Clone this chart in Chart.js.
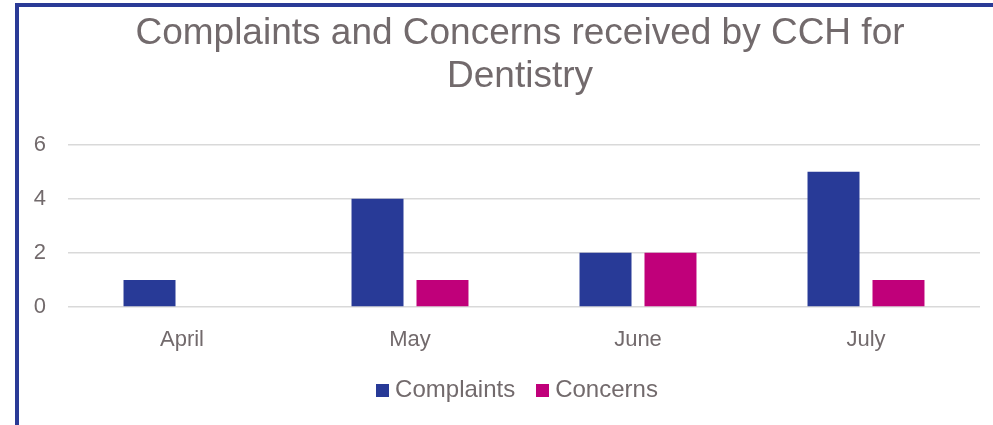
<!DOCTYPE html>
<html>
<head>
<meta charset="utf-8">
<script src="https://cdn.jsdelivr.net/npm/chart.js@4.4.0/dist/chart.umd.min.js"></script>
<style>
  html, body { margin: 0; padding: 0; background: #fff; width: 993px; height: 425px; overflow: hidden; }
  #frame { position: absolute; left: 15px; top: 3px; width: 974px; height: 418px;
           border-left: 4px solid #2a3a96; border-top: 4px solid #2a3a96; }
  #wrap { position: relative; width: 1002px; height: 440px; }
</style>
</head>
<body>
<div id="frame"><div id="wrap"><canvas id="c"></canvas></div></div>
<script>
const categories = ["April", "May", "June", "July"];
const complaints = [1, 4, 2, 5];
const concerns = [0, 1, 2, 1];
const yTicks = [0, 2, 4, 6];
const titleLines = ["Complaints and Concerns received by CCH for", "Dentistry"];

const textColor = "#726a6c";
const fontFamily = "'Liberation Sans', Arial, sans-serif";
const complaintsColor = "#283a97";
const concernsColor = "#c0007a";

function swatch(color) {
  const c = document.createElement("canvas");
  c.width = 13; c.height = 13;
  const g = c.getContext("2d");
  g.fillStyle = color;
  g.fillRect(0, 0, 13, 13);
  return c;
}

new Chart(document.getElementById("c"), {
  type: "bar",
  data: {
    labels: categories,
    datasets: [
      { label: "Complaints", data: complaints, backgroundColor: complaintsColor, pointStyle: swatch(complaintsColor), yAxisID: "y" },
      { label: "Concerns", data: concerns, backgroundColor: concernsColor, pointStyle: swatch(concernsColor), yAxisID: "y" }
    ]
  },
  options: {
    responsive: true,
    maintainAspectRatio: false,
    animation: false,
    devicePixelRatio: 1,
    layout: { padding: { left: 0, right: 0, top: 0, bottom: 35 } },
    datasets: { bar: { categoryPercentage: 0.57, barPercentage: 0.8 } },
    plugins: {
      title: {
        display: true,
        text: titleLines,
        color: textColor,
        font: { family: fontFamily, size: 37, weight: "normal", lineHeight: 1.17 },
        padding: { top: 5, bottom: 46 }
      },
      legend: {
        position: "bottom",
        labels: {
          color: textColor,
          usePointStyle: true,
          pointStyleWidth: 1,
          boxHeight: 13,
          padding: 27,
          font: { family: fontFamily, size: 24 }
        }
      },
      tooltip: { enabled: false }
    },
    scales: {
      x: {
        grid: { display: false, drawTicks: false },
        border: { display: false },
        ticks: { color: textColor, padding: 20, font: { family: fontFamily, size: 22 } },
        afterFit: (s) => { s.height = 44; }
      },
      y: {
        position: "left",
        min: yTicks[0],
        max: yTicks[yTicks.length - 1],
        grid: { color: "#d9d9d9", lineWidth: 1.5, drawTicks: false },
        border: { display: false },
        afterBuildTicks: (s) => { s.ticks = yTicks.map(v => ({ value: v })); },
        ticks: { color: textColor, padding: 22, font: { family: fontFamily, size: 22 } },
        afterFit: (s) => { s.width = 49; }
      },
      spacer: {
        position: "right",
        min: 0,
        max: 1,
        grid: { display: false, drawTicks: false },
        border: { display: false },
        ticks: { display: false },
        afterFit: (s) => { s.width = 41; }
      }
    }
  }
});
</script>
</body>
</html>
